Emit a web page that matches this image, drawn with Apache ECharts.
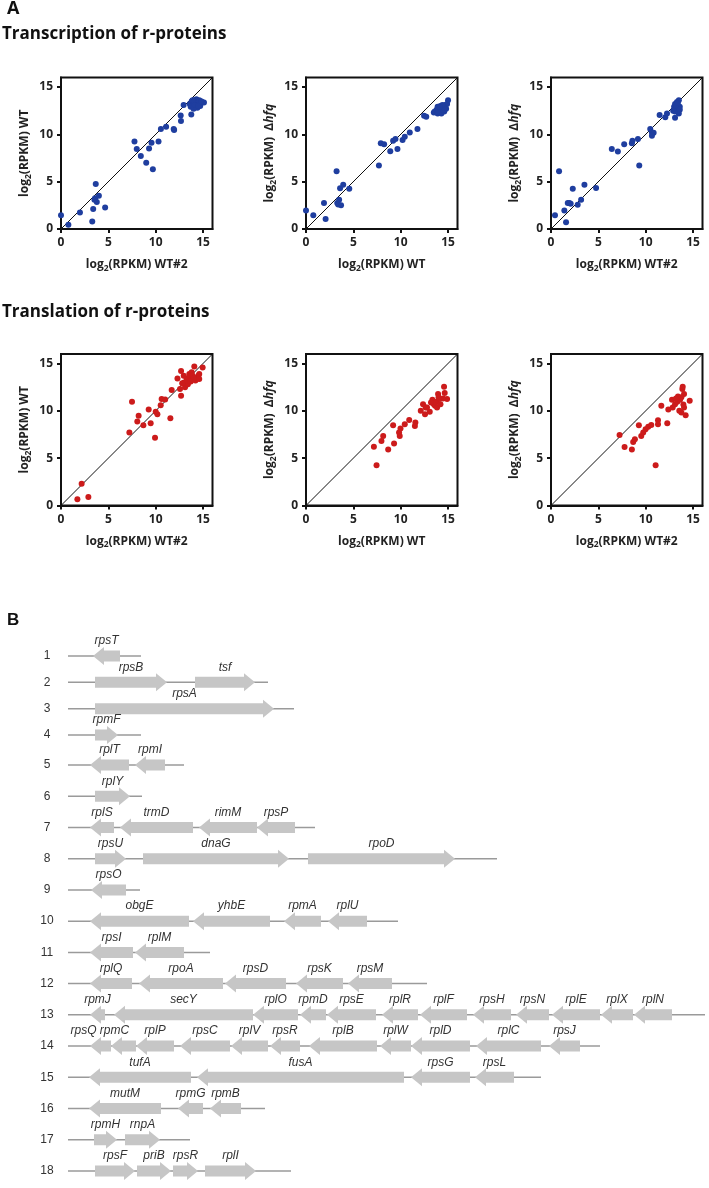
<!DOCTYPE html>
<html><head><meta charset="utf-8">
<script src="https://cdn.jsdelivr.net/npm/echarts@6/dist/echarts.min.js"></script>
<style>html,body{margin:0;padding:0;background:#fff}#c{width:709px;height:1188px}</style>
</head><body><div id="c"></div>
<script>
// ---------- Panel A data ----------
const tickValues = [0, 5, 10, 15];
const axisMax = 16;
const diagonal = [[0, 0], [16, 16]];

const txWT2vsWT = [[0,1.45],[0.78,0.46],[2.0,1.75],[3.3,0.8],[3.4,2.1],[3.67,4.74],[3.6,3.26],[3.78,2.84],[3.53,3.1],[4.0,3.5],[4.66,2.28],[7.76,9.23],[8.0,8.46],[8.43,7.72],[9.0,7.0],[9.3,8.5],[9.56,9.12],[9.7,6.3],[10.3,9.23],[10.55,10.56],[11.1,10.8],[11.9,10.56],[11.95,10.45],[12.67,11.4],[12.64,12.0],[12.95,13.1],[13.76,12.1],
 [13.6,13.2],[13.8,13.5],[13.9,13.0],[14.0,13.3],[14.1,13.6],[14.2,12.9],[14.2,13.4],[14.3,13.1],[14.4,13.5],[14.4,12.8],[14.5,13.2],[14.6,13.4],[14.7,13.0],[14.8,13.3],[14.9,13.4],[15.1,13.35],[13.7,12.9],[14.0,12.7],[14.3,13.7],[14.6,13.6],[13.9,13.6],[14.1,13.1],[14.5,13.0],[14.8,13.5]];
const txWTvsHfq = [[0,1.96],[0.77,1.44],[1.9,2.74],[2.07,1.05],[3.23,6.1],[3.3,2.74],[3.5,3.1],[3.4,2.6],[3.7,2.5],[3.6,4.3],[3.93,4.67],[4.57,4.25],[7.7,6.7],[7.9,9.05],[8.25,8.95],[8.9,8.2],[9.2,9.33],[9.45,9.5],[9.66,8.46],[10.2,9.4],[10.43,9.75],[10.96,10.2],[11.77,10.56],[12.47,11.96],[12.7,11.86],[13.5,12.3],[15.0,13.6],
 [13.6,12.4],[13.8,12.6],[13.9,12.2],[14.0,12.8],[14.1,12.5],[14.2,12.3],[14.2,13.0],[14.3,12.7],[14.4,12.5],[14.5,12.9],[14.6,12.4],[14.7,13.1],[14.8,12.7],[14.9,13.2],[14.3,12.2],[14.0,12.4],[14.5,12.6],[13.9,12.9],[14.6,12.8],[14.4,13.1],[14.1,12.9]];
const txWT2vsHfq = [[0.42,1.44],[0.85,6.1],[1.41,1.96],[1.59,0.7],[1.77,2.74],[2.08,2.67],[2.3,4.25],[1.94,2.74],[2.82,2.56],[3.18,3.09],[3.53,4.67],[4.76,4.32],[6.42,8.46],[7.06,8.18],[7.73,8.95],[8.54,9.05],[8.6,9.33],[9.18,9.5],[9.32,6.7],[10.48,10.56],[10.66,10.2],[10.84,10.17],[10.66,9.86],[11.47,12.03],[12.07,11.8],[12.25,12.2],[13.1,11.75],
 [13.0,12.9],[13.1,13.2],[13.2,12.6],[13.3,13.4],[13.3,12.8],[13.4,13.0],[13.4,12.4],[13.5,13.6],[13.5,12.2],[13.6,12.9],[13.2,13.0],[12.9,12.5],[13.1,12.4],[13.6,12.6],[13.4,13.3]];
const tlWT2vsWT = [[1.73,0.67],[2.18,2.3],[2.89,0.89],[7.22,7.7],[7.5,10.96],[8.06,8.87],[8.2,9.47],[8.7,8.48],[9.26,10.14],[9.47,8.69],[9.93,7.16],[10.0,9.9],[10.18,9.65],[10.53,10.6],[10.63,11.24],[11.0,11.2],[11.55,9.22],[11.69,12.2],[12.68,14.2],[12.68,11.6],[12.3,13.4],[12.57,12.3],[13.0,13.0],[12.96,13.7],[13.27,13.4],[13.55,13.9],[13.8,14.07],[14.08,14.68],[14.5,13.7],[14.96,14.57],[14.6,13.35],[14.15,13.47],
 [13.1,12.5],[13.4,12.8],[13.6,13.6],[13.9,13.7],[14.2,13.2],[14.4,13.4],[14.6,13.9],[12.8,12.9],[13.3,13.2],[14.0,13.4],[13.7,13.1]];
const tlWTvsHfq = [[7.17,6.2],[7.45,4.26],[7.97,6.81],[8.15,7.34],[8.68,5.92],[9.2,8.48],[9.3,6.56],[9.83,7.7],[9.98,8.12],[9.9,7.34],[10.43,8.58],[10.9,9.04],[11.5,8.4],[11.55,8.76],[12.12,10.0],[12.36,10.7],[12.57,9.65],[12.78,10.35],[13.07,9.9],[13.35,11.17],[13.5,10.7],[13.77,10.96],[13.95,11.77],[14.1,11.24],[14.58,12.55],[14.65,11.88],[14.9,11.24],[13.63,10.53],[13.84,10.35],[14.2,10.7],[14.47,11.3],[13.2,10.88],[12.64,10.35],[14.0,11.42]];
const tlWT2vsHfq = [[7.24,7.45],[7.77,6.17],[8.54,5.92],[8.68,6.7],[8.86,6.99],[9.28,8.48],[9.53,7.34],[9.74,7.7],[9.99,8.05],[10.27,8.33],[10.59,8.51],[11.05,4.26],[11.3,9.0],[11.3,8.58],[11.65,10.53],[12.28,8.69],[12.39,10.14],[12.78,11.17],[12.85,10.35],[13.1,10.7],[13.34,10.96],[13.55,10.0],[13.77,9.82],[13.87,12.3],[14.05,11.77],[14.22,9.54],[14.65,11.06],[13.63,11.17],[13.77,11.42],[13.98,10.67],[13.41,11.52],[13.2,11.3],[13.91,12.55],[14.05,10.35]];

const nameWT2 = '{t|log}{s|2}{t|(RPKM) WT#2}';
const nameWT = '{t|log}{s|2}{t|(RPKM) WT}';
const nameHfq = '{t|log}{s|2}{t|(RPKM)  Δ}{i|hfq}';

// ---------- Panel B data ----------
const rowNumbers = [1,2,3,4,5,6,7,8,9,10,11,12,13,14,15,16,17,18];
const trackLength = [73,200,226,73,116,74,247,429,72,330,142,359,637,532,473,197,122,223];
// [name, row, start, end, strand (+1 right, -1 left)]
const genes = [
 ['rpsT',1,25,52,-1],
 ['rpsB',2,27,99,1],['tsf',2,127,187,1],
 ['rpsA',3,27,206,1],
 ['rpmF',4,27,50,1],
 ['rplT',5,22,61,-1],['rpmI',5,67,97,-1],
 ['rplY',6,27,62,1],
 ['rplS',7,22,46,-1],['trmD',7,52,125,-1],['rimM',7,131,189,-1],['rpsP',7,189,227,-1],
 ['rpsU',8,27,58,1],['dnaG',8,75,221,1],['rpoD',8,240,387,1],
 ['rpsO',9,23,58,-1],
 ['obgE',10,22,121,-1],['yhbE',10,125,202,-1],['rpmA',10,216,253,-1],['rplU',10,260,299,-1],
 ['rpsI',11,22,65,-1],['rplM',11,67,116,-1],
 ['rplQ',12,22,64,-1],['rpoA',12,71,155,-1],['rpsD',12,157,218,-1],['rpsK',12,228,275,-1],['rpsM',12,280,324,-1],
 ['rpmJ',13,22,37,-1],['secY',13,46,185,-1],['rplO',13,185,230,-1],['rpmD',13,232,258,-1],['rpsE',13,259,308,-1],['rplR',13,314,350,-1],['rplF',13,352,399,-1],['rpsH',13,405,443,-1],['rpsN',13,448,481,-1],['rplE',13,484,532,-1],['rplX',13,533,565,-1],['rplN',13,566,604,-1],
 ['rpsQ',14,22,43,-1],['rpmC',14,43,68,-1],['rplP',14,68,106,-1],['rpsC',14,112,162,-1],['rplV',14,163,200,-1],['rpsR',14,202,232,-1],['rplB',14,241,309,-1],['rplW',14,312,343,-1],['rplD',14,343,402,-1],['rplC',14,408,473,-1],['rpsJ',14,481,512,-1],
 ['tufA',15,21,123,-1],['fusA',15,129,336,-1],['rpsG',15,343,402,-1],['rpsL',15,407,446,-1],
 ['mutM',16,21,93,-1],['rpmG',16,110,135,-1],['rpmB',16,142,173,-1],
 ['rpmH',17,26,49,1],['rnpA',17,57,92,1],
 ['rpsF',18,27,67,1],['priB',18,69,103,1],['rpsR',18,105,130,1],['rplI',18,137,188,1]
];

// ---------- build ----------
const blue = '#1f3e9f', red = '#cc1b1b';
const plots = [
 {data: txWT2vsWT, x: nameWT2, y: nameWT, c: blue, left: 61, top: 77.5},
 {data: txWTvsHfq, x: nameWT, y: nameHfq, c: blue, left: 306, top: 77.5},
 {data: txWT2vsHfq, x: nameWT2, y: nameHfq, c: blue, left: 551, top: 77.5},
 {data: tlWT2vsWT, x: nameWT2, y: nameWT, c: red, left: 61, top: 354},
 {data: tlWTvsHfq, x: nameWT, y: nameHfq, c: red, left: 306, top: 354},
 {data: tlWT2vsHfq, x: nameWT2, y: nameHfq, c: red, left: 551, top: 354}
];
const FF = 'Open Sans';
const tickFont = {fontFamily: FF, fontWeight: 'bold', fontSize: 12, color: '#222'};
const rich = {
 t: {fontFamily: FF, fontWeight: 'bold', fontSize: 12, color: '#222'},
 s: {fontFamily: FF, fontWeight: 'bold', fontSize: 8.5, color: '#222', padding: [7,0,0,0]},
 i: {fontFamily: FF, fontWeight: 'bold', fontStyle: 'italic', fontSize: 12, color: '#222'}
};
const grid = [], xAxis = [], yAxis = [], series = [];
plots.forEach((p, k) => {
 grid.push({left: p.left, top: p.top, width: 151.5, height: 151.5, show: true, borderColor: '#111', borderWidth: 2, backgroundColor: 'transparent'});
 const common = {gridIndex: k, type: 'value', min: 0, max: axisMax, nameLocation: 'middle', nameGap: 28,
   axisLine: {show: true, onZero: false, lineStyle: {color: '#111', width: 2}},
   axisTick: {show: true, length: 4, lineStyle: {color: '#111', width: 2}, customValues: tickValues},
   axisLabel: Object.assign({margin: 8, customValues: tickValues}, tickFont),
   splitLine: {show: false}, nameTextStyle: {rich: rich}};
 xAxis.push(Object.assign({}, common, {name: p.x}));
 yAxis.push(Object.assign({}, common, {name: p.y, nameRotate: 90, nameGap: 28}));
 series.push({type: 'line', xAxisIndex: k, yAxisIndex: k, data: diagonal, symbol: 'none', silent: true,
   lineStyle: {color: '#111', width: 1}, z: 1});
 series.push({type: 'scatter', xAxisIndex: k, yAxisIndex: k, data: p.data, symbolSize: 6,
   itemStyle: {color: p.c, opacity: 1}, z: 2});
});

// label nudges (px) where neighbouring names would collide
const labelNudge = {'14:rpsQ': -17, '14:rpmC': -9};

// Panel B grids
const bGrids = [{rows: [1,4], top: 656, height: 79}, {rows: [5,18], top: 765, height: 406}];
bGrids.forEach((g, j) => {
 const gi = grid.length;
 grid.push({left: 68, top: g.top, width: 640, height: g.height, show: false});
 xAxis.push({gridIndex: gi, type: 'value', min: 0, max: 640, show: false});
 yAxis.push({gridIndex: gi, type: 'value', min: g.rows[0], max: g.rows[1], interval: 1, inverse: true,
   axisLine: {show: false}, axisTick: {show: false}, splitLine: {show: false},
   axisLabel: {margin: 21, align: 'center', fontFamily: 'Liberation Sans', fontSize: 12, color: '#333'}});
 const tracks = rowNumbers.filter(r => r >= g.rows[0] && r <= g.rows[1]).map(r => [0, trackLength[r-1], r]);
 series.push({type: 'custom', xAxisIndex: gi, yAxisIndex: gi, data: tracks, encode: {x: [0,1], y: 2}, silent: true, z: 1,
   renderItem: (params, api) => {
     const a = api.coord([api.value(0), api.value(2)]), b = api.coord([api.value(1), api.value(2)]);
     return {type: 'line', shape: {x1: a[0], y1: a[1], x2: b[0], y2: b[1]}, style: {stroke: '#9a9a9a', lineWidth: 1.5}};
   }});
 const gd = genes.filter(d => d[1] >= g.rows[0] && d[1] <= g.rows[1]).map(d => [d[2], d[3], d[1], d[4], d[0]]);
 series.push({type: 'custom', xAxisIndex: gi, yAxisIndex: gi, data: gd, encode: {x: [0,1], y: 2}, silent: true, z: 2,
   renderItem: (params, api) => {
     const s = api.coord([api.value(0), api.value(2)]), e = api.coord([api.value(1), api.value(2)]);
     const dir = api.value(3), name = gd[params.dataIndex][4], row = gd[params.dataIndex][2];
     const nudge = labelNudge[row + ':' + name] || 0;
     const cy = s[1], bh = 5.5, hh = 9;
     const len = e[0] - s[0];
     const hl = Math.min(11, len);
     let pts;
     if (dir < 0) {
       pts = [[s[0], cy], [s[0]+hl, cy-hh], [s[0]+hl, cy-bh], [e[0], cy-bh], [e[0], cy+bh], [s[0]+hl, cy+bh], [s[0]+hl, cy+hh]];
     } else {
       pts = [[e[0], cy], [e[0]-hl, cy+hh], [e[0]-hl, cy+bh], [s[0], cy+bh], [s[0], cy-bh], [e[0]-hl, cy-bh], [e[0]-hl, cy-hh]];
     }
     return {type: 'group', children: [
       {type: 'polygon', shape: {points: pts}, style: {fill: '#c6c6c6', stroke: null}},
       {type: 'text', style: {text: name, x: (s[0]+e[0])/2 + nudge, y: cy - 15, align: 'center', verticalAlign: 'middle',
         fontFamily: 'Liberation Sans', fontStyle: 'italic', fontSize: 12, fill: '#333'}}
     ]};
   }});
});

const chart = echarts.init(document.getElementById('c'), null, {renderer: 'canvas'});
chart.setOption({
 animation: false,
 backgroundColor: '#fff',
 grid: grid, xAxis: xAxis, yAxis: yAxis, series: series,
 graphic: [
   {type: 'text', left: 7, top: 0, style: {text: 'A', fontFamily: FF, fontWeight: 'bold', fontSize: 18, fill: '#111'}},
   {type: 'text', left: 2, top: 26, style: {text: 'Transcription of r-proteins', fontFamily: FF, fontWeight: 'bold', fontSize: 17, fill: '#111'}},
   {type: 'text', left: 2, top: 304, style: {text: 'Translation of r-proteins', fontFamily: FF, fontWeight: 'bold', fontSize: 17, fill: '#111'}},
   {type: 'text', left: 7, top: 612, style: {text: 'B', fontFamily: 'Liberation Sans', fontWeight: 'bold', fontSize: 17, fill: '#111'}}
 ]
});
</script></body></html>
